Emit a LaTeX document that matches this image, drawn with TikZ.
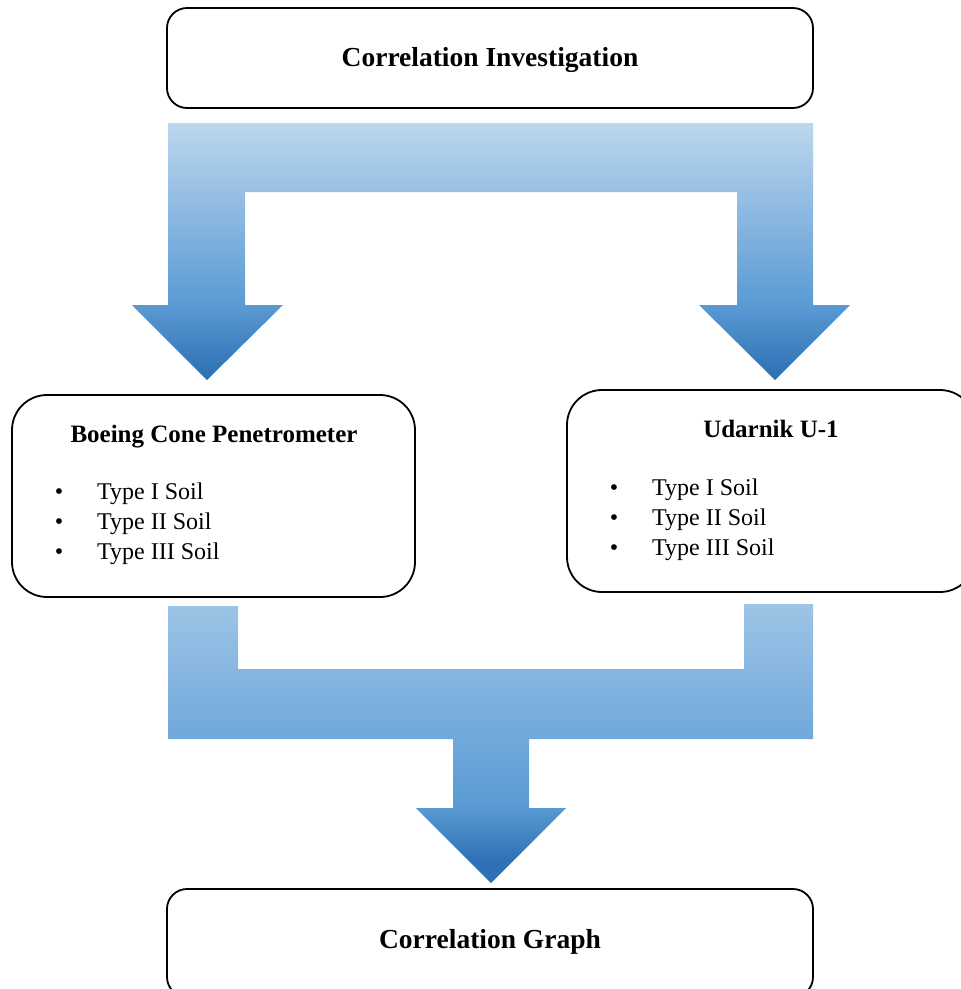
\documentclass[tikz,border=0pt]{standalone}
\usepackage{fontspec}
\setmainfont{Liberation Serif}
\definecolor{lightA}{RGB}{189,215,238}
\definecolor{lightB}{RGB}{157,196,230}
\definecolor{midA}{RGB}{91,155,213}
\definecolor{darkA}{RGB}{46,113,180}
\pgfdeclareverticalshading{shadeTop}{100bp}{color(0bp)=(darkA); color(26bp)=(darkA); color(40bp)=(midA); color(75bp)=(lightA); color(100bp)=(lightA)}
\pgfdeclareverticalshading{shadeBot}{100bp}{color(0bp)=(darkA); color(29bp)=(darkA); color(39bp)=(midA); color(75bp)=(lightB); color(100bp)=(lightB)}
\tikzset{
  box/.style={draw=black, line width=1.8pt, fill=white, rectangle, inner sep=0pt},
  ttl/.style={inner sep=0pt, anchor=base, font=\bfseries\fontsize{27.5}{32}\selectfont},
  sub/.style={inner sep=0pt, anchor=base, font=\bfseries\fontsize{25}{30}\selectfont},
  item/.style={inner sep=0pt, anchor=base west, font=\fontsize{24}{28}\selectfont},
  bul/.style={inner sep=0pt, anchor=base, font=\fontsize{24}{28}\selectfont}
}
\begin{document}
\begin{tikzpicture}[x=1pt,y=-1pt]
\useasboundingbox (0,0) rectangle (961,989);
% flow arrows
\shade[shading=shadeTop] (168,123) -- (813,123) -- (813,305) -- (850,305) -- (775,380) -- (699,305) -- (737,305) -- (737,192) -- (245,192) -- (245,305) -- (283,305) -- (207,380) -- (132,305) -- (168,305) -- cycle;
\shade[shading=shadeBot] (168,606) -- (238,606) -- (238,669) -- (744,669) -- (744,604) -- (813,604) -- (813,739) -- (529,739) -- (529,808) -- (566,808) -- (491,883) -- (416,808) -- (453,808) -- (453,739) -- (168,739) -- cycle;
% boxes
\node[box, rounded corners=20pt, minimum width=646pt, minimum height=100pt] (top) at (490,58) {};
\node[box, rounded corners=35pt, minimum width=403pt, minimum height=202pt] (left) at (213.5,496) {};
\node[box, rounded corners=35pt, minimum width=408pt, minimum height=202pt] (right) at (771,491) {};
\node[box, rounded corners=20pt, minimum width=646pt, minimum height=108pt] (bot) at (490,943) {};
% texts
\node[ttl] (toptxt) at (490,66) {Correlation Investigation};
\node[ttl] (bottxt) at (490,948) {Correlation Graph};
\node[sub] (ltitle) at (214,442) {Boeing Cone Penetrometer};
\node[sub] (rtitle) at (771,437) {Udarnik U-1};
\node[bul] (lb1) at (59,499) {\textbullet};
\node[bul] (lb2) at (59,529) {\textbullet};
\node[bul] (lb3) at (59,559) {\textbullet};
\node[item] (li1) at (97,499) {Type I Soil};
\node[item] (li2) at (97,529) {Type II Soil};
\node[item] (li3) at (97,559) {Type III Soil};
\node[bul] (rb1) at (614,495) {\textbullet};
\node[bul] (rb2) at (614,525) {\textbullet};
\node[bul] (rb3) at (614,555) {\textbullet};
\node[item] (ri1) at (652,495) {Type I Soil};
\node[item] (ri2) at (652,525) {Type II Soil};
\node[item] (ri3) at (652,555) {Type III Soil};
\end{tikzpicture}
\end{document}
